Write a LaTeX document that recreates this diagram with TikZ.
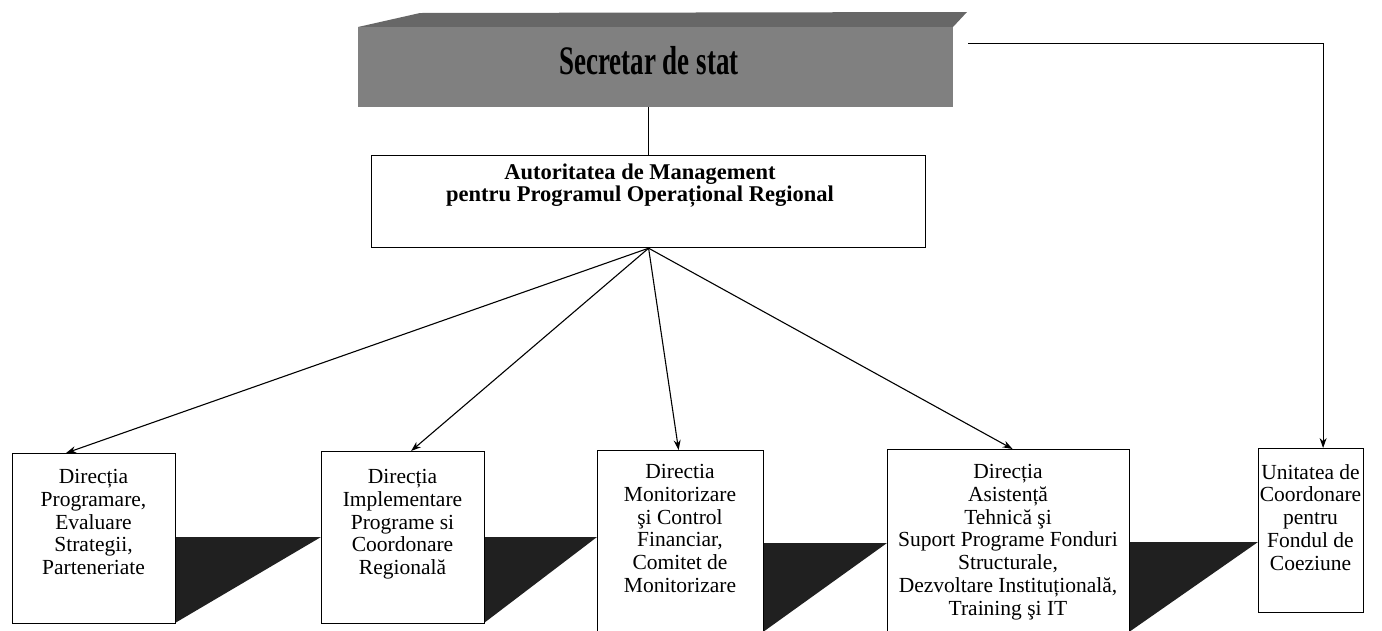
\documentclass[tikz,border=0pt]{standalone}
\usepackage{fontspec}
\setmainfont{Liberation Serif}
\usetikzlibrary{arrows.meta}
\definecolor{secgray}{RGB}{128,128,128}
\definecolor{shadowdark}{RGB}{32,32,32}

\begin{document}
\begin{tikzpicture}[x=1pt, y=-1pt,
  unitbox/.style={draw, line width=1.2pt, fill=white, anchor=north west, inner sep=0pt},
  unittext/.style={font=\fontsize{21.5}{22.8}\selectfont, align=center, anchor=north, inner sep=0pt},
  link/.style={line width=1.1pt},
  linkarrow/.style={line width=1.1pt, -{Stealth[length=10pt, width=7pt]}}]
  \useasboundingbox (0,0) rectangle (1382,630);
  \clip (0,0) rectangle (1382,630);

  % Secretar de stat
  \fill[secgray!80!black] (358,27) -- (420,13) -- (967,12) -- (953,27) -- cycle;
  \node[fill=secgray, anchor=north west, minimum width=595, minimum height=80, inner sep=0pt] (sec) at (358,27) {};
  \node[font=\fontsize{27}{27}\selectfont\bfseries] (sec-t) at (649,61) {\scalebox{1}[1.5]{Secretar de stat}};

  % Autoritatea de Management
  \node[unitbox, minimum width=554, minimum height=92] (am) at (371,155) {};
  \node[font=\fontsize{22.5}{19}\selectfont\bfseries, align=center, anchor=north, inner sep=0pt] (am-t) at (640,164) {Autoritatea de Management\\pentru Programul Operațional Regional};

  % shadows between the directions
  \fill[shadowdark] (175,537) -- (321,537) -- (175,623) -- cycle;
  \fill[shadowdark] (484,537) -- (597,537) -- (484,623) -- cycle;
  \fill[shadowdark] (763,543) -- (887,543) -- (763,632) -- cycle;
  \fill[shadowdark] (1129,542) -- (1258,542) -- (1129,632) -- cycle;

  % Directions
  \node[unitbox, minimum width=163, minimum height=170] (dpe) at (12,453) {};
  \node[unitbox, minimum width=163, minimum height=172] (dip) at (321,451) {};
  \node[unitbox, minimum width=166, minimum height=195] (dmc) at (597,450) {};
  \node[unitbox, minimum width=242, minimum height=196] (dat) at (887,449) {};
  \node[unitbox, minimum width=105, minimum height=164] (ucf) at (1258,448) {};

  \node[unittext] (dpe-t) at (93.5,469) {Direcția\\Programare,\\Evaluare\\Strategii,\\Parteneriate};
  \node[unittext] (dip-t) at (402.5,469) {Direcția\\Implementare\\Programe si\\Coordonare\\Regională};
  \node[unittext] (dmc-t) at (680,464) {Directia\\Monitorizare\\şi Control\\Financiar,\\Comitet de\\Monitorizare};
  \node[unittext] (dat-t) at (1008,464) {Direcția\\Asistență\\Tehnică şi\\Suport Programe Fonduri\\Structurale,\\Dezvoltare Instituțională,\\Training şi IT};
  \node[unittext] (ucf-t) at (1310.5,464) {Unitatea de\\Coordonare\\pentru\\Fondul de\\Coeziune};

  % connectors
  \draw[link] (am.north) -- (am.north |- sec.south);
  \draw[linkarrow] (am.south) -- ([xshift=-28pt]dpe.north);
  \draw[linkarrow] (am.south) -- ([xshift=8pt]dip.north);
  \draw[linkarrow] (am.south) -- ([xshift=-2pt]dmc.north);
  \draw[linkarrow] (am.south) -- ([xshift=4pt]dat.north);
  \draw[linkarrow] ([xshift=15pt,yshift=24pt]sec.east) -| ([xshift=12pt]ucf.north);
\end{tikzpicture}
\end{document}
